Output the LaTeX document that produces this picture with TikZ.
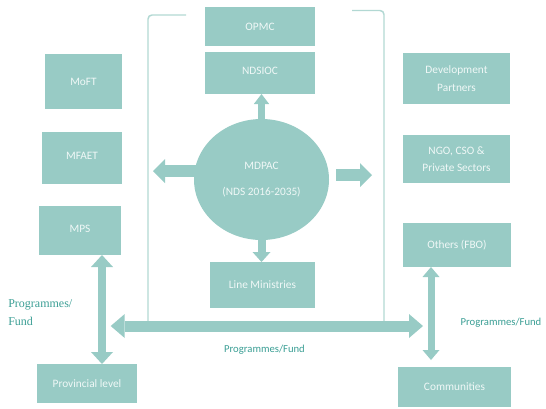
\documentclass[tikz,border=0pt]{standalone}
\usepackage{fontspec}
\setmainfont{Carlito}
\newfontfamily\seriffont{Liberation Serif}
\usetikzlibrary{arrows.meta,shapes.geometric}
\definecolor{tealfill}{RGB}{152,203,197}
\definecolor{tealtext}{RGB}{58,158,148}
\definecolor{boxtext}{RGB}{240,248,247}
\definecolor{brk}{RGB}{178,216,211}
\tikzset{
  box/.style={rectangle, fill=tealfill, inner sep=0pt, outer sep=0pt, text=boxtext, align=center,
    font=\fontsize{8.5}{13}\selectfont},
  blk/.style={draw=tealfill},
  lbl/.style={text=tealtext, font=\fontsize{8}{10}\selectfont, inner sep=0pt},
  brkline/.style={draw=brk, line width=1.1pt, rounded corners=3pt}
}
\begin{document}
\begin{tikzpicture}[x=0.75pt,y=-0.75pt]
\useasboundingbox (0,0) rectangle (546,408);
% bracket
\draw[brkline] (148,322) |- (186,15);
\draw[brkline] (352,10.5) -| (384,322);
% boxes
\node[box, minimum width=82.5pt, minimum height=29.25pt] (opmc) at (260,26.5) {OPMC};
\node[box, minimum width=82.5pt, minimum height=31.5pt] (ndsioc) at (260,73) {\raisebox{4pt}{NDSIOC}};
\node[box, ellipse, minimum width=101.25pt, minimum height=90.75pt, font=\fontsize{8.5}{19.5}\selectfont] (circ) at (261.5,179.5) {MDPAC\\(NDS 2016-2035)};
\node[box, minimum width=78.75pt, minimum height=34.5pt] (lm) at (262.5,285) {Line Ministries};
\node[box, minimum width=57.75pt, minimum height=41.25pt] (moft) at (83.5,81.5) {MoFT};
\node[box, minimum width=60pt, minimum height=39pt] (mfaet) at (82,158) {\raisebox{3pt}{MFAET}};
\node[box, minimum width=61.5pt, minimum height=36.75pt] (mps) at (80,230.5) {\raisebox{3pt}{MPS}};
\node[box, minimum width=75pt, minimum height=29.25pt] (prov) at (87,383.5) {Provincial level};
\node[box, minimum width=80.25pt, minimum height=38.25pt] (dev) at (456.5,78.5) {Development\\Partners};
\node[box, minimum width=80.25pt, minimum height=36pt, font=\fontsize{8.5}{12.5}\selectfont] (ngo) at (456.5,159) {NGO, CSO \&\\Private Sectors};
\node[box, minimum width=81pt, minimum height=33pt] (oth) at (457,245) {Others (FBO)};
\node[box, minimum width=84.75pt, minimum height=30pt] (comm) at (454.5,387) {Communities};
% free ends
\coordinate (ltip) at (153,171);
\coordinate (rtip) at (372,175);
\coordinate (hl) at (110.7,326);
\coordinate (hr) at (423,326);
% arrows
\draw[blk, line width=5.25pt, -{Triangle[width=11.5pt,length=7.5pt,line width=0pt]}, shorten <=-3pt]
  (circ.north) -- (circ.north |- ndsioc.south);
\draw[blk, line width=6pt, -{Triangle[width=13.5pt,length=7.5pt,line width=0pt]}]
  (circ.south) -- (circ.south |- lm.north);
\draw[blk, line width=9pt, -{Triangle[width=18pt,length=9pt,line width=0pt]}, shorten <=-3pt]
  (circ.west |- ltip) -- (ltip);
\draw[blk, line width=9pt, -{Triangle[width=18pt,length=9pt,line width=0pt]}, shorten <=5.25pt]
  (circ.east |- rtip) -- (rtip);
\draw[blk, line width=8.25pt, {Triangle[width=18pt,length=10.5pt,line width=0pt]}-{Triangle[width=18pt,length=10.5pt,line width=0pt]}]
  (hl) -- (hr);
\draw[blk, line width=6pt, {Triangle[width=16.5pt,length=9pt,line width=0pt]}-{Triangle[width=16.5pt,length=9pt,line width=0pt]}]
  ([xshift=16.5pt]mps.south) -- ([xshift=16.5pt]mps.south |- prov.north);
\draw[blk, line width=5.25pt, {Triangle[width=12.75pt,length=7.5pt,line width=0pt]}-{Triangle[width=12.75pt,length=7.5pt,line width=0pt]}, shorten >=5.25pt]
  ([xshift=-19.5pt]oth.south) -- ([xshift=-19.5pt]oth.south |- comm.north);
% labels
\node[lbl, anchor=west, align=left, font=\seriffont\fontsize{9}{13.5}\selectfont] (lleft) at (8,313) {Programmes/\\Fund};
\node[lbl] (lmid) at (264.5,350) {Programmes/Fund};
\node[lbl] (lright) at (501,323) {Programmes/Fund};
\end{tikzpicture}
\end{document}
